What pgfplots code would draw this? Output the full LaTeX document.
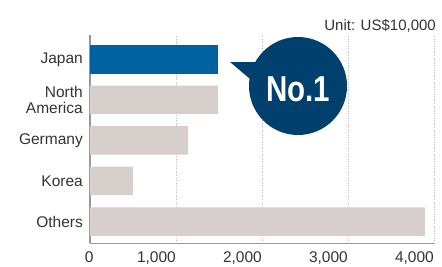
\documentclass[border=0pt]{standalone}
\usepackage{fontspec}
\setmainfont{Liberation Sans}
\newfontfamily\nofont{Liberation Sans}[FakeStretch=0.82]
\usepackage{pgfplots}
\pgfplotsset{compat=1.18}
\definecolor{jpblue}{HTML}{0062A0}
\definecolor{barg}{HTML}{D7CFCB}
\definecolor{bubble}{HTML}{00406E}
\definecolor{txt}{HTML}{333333}
\definecolor{axg}{HTML}{999999}
\definecolor{gridg}{HTML}{BBBBBB}
\begin{document}
\begin{tikzpicture}[x=1pt,y=1pt]
\path[use as bounding box] (0,0) rectangle (442,266);
\begin{axis}[
  at={(90pt,23pt)}, anchor=south west,
  scale only axis, width=344pt, height=208pt,
  xmin=0, xmax=4000, ymin=-0.53, ymax=4.6,
  xbar, bar width=28.5pt,
  axis x line*=bottom, axis y line*=left,
  x axis line style={draw=axg, line width=1pt, -},
  y axis line style={draw=axg, line width=1.6pt, -},
  major tick length=0pt,
  xtick={0,1000,2000,3000,4000},
  xticklabels={\makebox[0pt]{0},{1,000},{2,000},{3,000},{4,000}},
  xticklabel style={anchor=north east, inner xsep=0pt, inner ysep=0pt, yshift=-8pt, font=\fontsize{15.5}{16}\selectfont, text=txt},
  ytick={0,1,2,3,4},
  yticklabels={Others,Korea,Germany,{North\\America},Japan},
  yticklabel style={align=right, anchor=east, inner xsep=0pt, xshift=-7pt, font=\fontsize{15.5}{16}\selectfont, text=txt},
  xmajorgrids, grid style={dotted, draw=gridg, line width=0.9pt},
  clip=false,
]
\addplot[fill=barg, draw=none, bar shift=0pt] coordinates {(3895,0) (500,1) (1140,2) (1490,3)};
\addplot[fill=jpblue, draw=none, bar shift=0pt] coordinates {(1490,4)};
\end{axis}
\node[anchor=base east, inner sep=0pt, text=txt, font=\fontsize{15}{16}\selectfont] at (436,236) {Unit: US\$10,000};
\fill[bubble] (230,204) -- (262,204) -- (256,182) -- cycle;
\fill[bubble] (298,180) circle (49);
\node[anchor=base, inner sep=0pt, text=white, font=\nofont\bfseries\fontsize{36}{40}\selectfont] at (298,165) {No.1};
\end{tikzpicture}
\end{document}
